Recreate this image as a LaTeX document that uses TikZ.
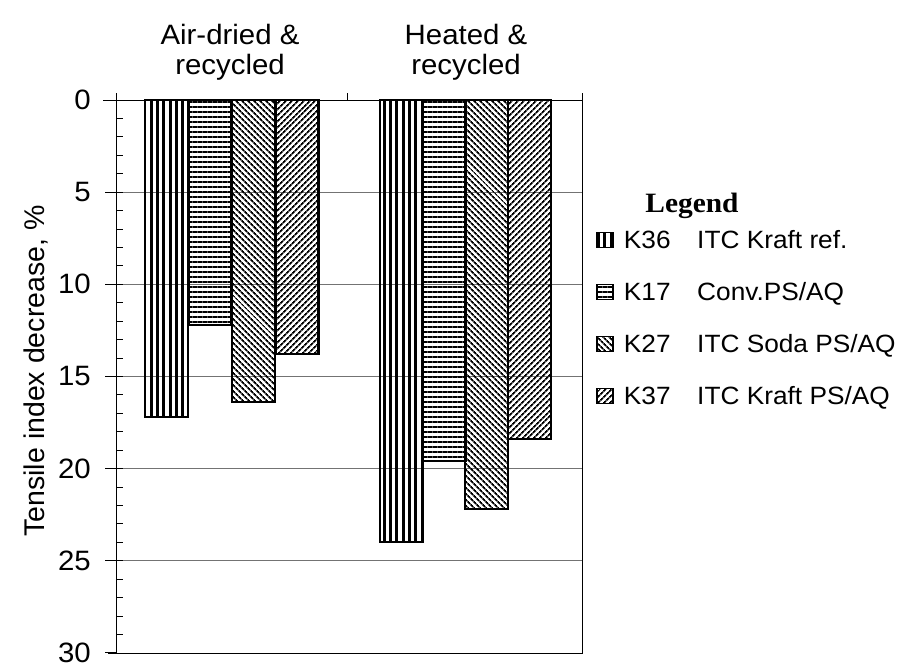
\documentclass[tikz,border=0pt]{standalone}
\usepackage{fontspec}
\setmainfont{Liberation Sans}
\newfontfamily\chartfont[FakeStretch=1.05]{Liberation Sans}
\newfontfamily\keyfont[FakeStretch=1.05]{Liberation Sans}
\newfontfamily\titlefont[FakeStretch=1.05]{Liberation Serif}
\usepackage{tikz}
\usetikzlibrary{patterns.meta, positioning}
\tikzset{
  axis/.style={black, line width=1pt},
  gridline/.style={black!55, line width=0.8pt},
  bar/.style={draw=black, line width=2.2pt},
  vbars/.style={pattern={Lines[angle=90, distance=6.3pt, line width=3pt]}},
  hbars/.style={pattern={Lines[angle=0, distance=5pt, line width=2.4pt]}},
  dbars/.style={pattern={Lines[angle=-45, distance=4pt, line width=1.9pt]}},
  ebars/.style={pattern={Lines[angle=45, distance=4pt, line width=1.9pt]}},
  ticklabel/.style={anchor=east, inner sep=0pt, font=\chartfont\fontsize{28}{30}\selectfont},
  head/.style={align=center, inner sep=0pt, font=\chartfont\fontsize{28}{30}\selectfont},
  ylab/.style={rotate=90, inner sep=0pt, font=\fontsize{28.5}{31}\selectfont},
  swatch/.style={draw=black, line width=1.4pt, minimum width=16pt, minimum height=15pt, inner sep=0pt},
  keytext/.style={inner sep=0pt, font=\keyfont\fontsize{25}{28}\selectfont}
}
\begin{document}
\begin{tikzpicture}[x=1pt, y=-1pt]
    \useasboundingbox (0,0) rectangle (911,662);
    % Grid lines
    \foreach \v in {5,10,...,25}
        \draw[gridline] (116,{100+18.43*\v}) -- (582,{100+18.43*\v});
    % Bars (value = decrease in %)
    \foreach \x/\v/\p in {145/17.2/vbars, 188.5/12.2/hbars, 232/16.4/dbars, 275.5/13.8/ebars,
                          380/24.0/vbars, 422.6/19.6/hbars, 465.2/22.2/dbars, 507.8/18.4/ebars}
        \draw[bar, \p] (\x,100) rectangle ++(43,{18.43*\v});
    % Frame and axis
    \draw[axis] (103,100) -- (582,100);
    \draw[axis] (116,93) -- (116,653);
    \draw[axis] (108,653) -- (583,653);
    \draw[axis] (582,93) -- (582,653);
    \draw[axis] (347,93) -- (347,100);
    \foreach \v in {1,...,29}
        \draw[axis] (116,{100+18.43*\v}) -- (123,{100+18.43*\v});
    \foreach \v in {5,10,...,30}
        \draw[axis] (105,{100+18.43*\v}) -- (116,{100+18.43*\v});
    % Tick labels
    \foreach \v in {0,5,...,30}
        \node[ticklabel] (lab\v) at (91,{100+18.43*\v}) {\v};
    \node[ylab] (ylabel) at (36,371) {Tensile index decrease, \%};
    % Group headings
    \node[head] (airdried) at (230,52) {Air-dried \&\\recycled};
    \node[head] (heated) at (466,52) {Heated \&\\recycled};
    % Legend
    \node[anchor=base, inner sep=0pt, font=\titlefont\bfseries\fontsize{28}{31}\selectfont] (legend) at (692,212) {Legend};
    \coordinate (desc) at (697,0);
    \foreach \i/\y/\p/\k/\d in {36/240/vbars/K36/{ITC Kraft ref.}, 17/292/hbars/K17/{Conv.PS/AQ},
                                27/344/dbars/K27/{ITC Soda PS/AQ}, 37/396/ebars/K37/{ITC Kraft PS/AQ}} {
        \node[swatch, \p] (key\i) at (605,\y) {};
        \node[keytext, anchor=west, right=10pt of key\i] (code\i) {\k};
        \node[keytext, anchor=base west] (name\i) at (code\i.base -| desc) {\d};
    }
\end{tikzpicture}
\end{document}
